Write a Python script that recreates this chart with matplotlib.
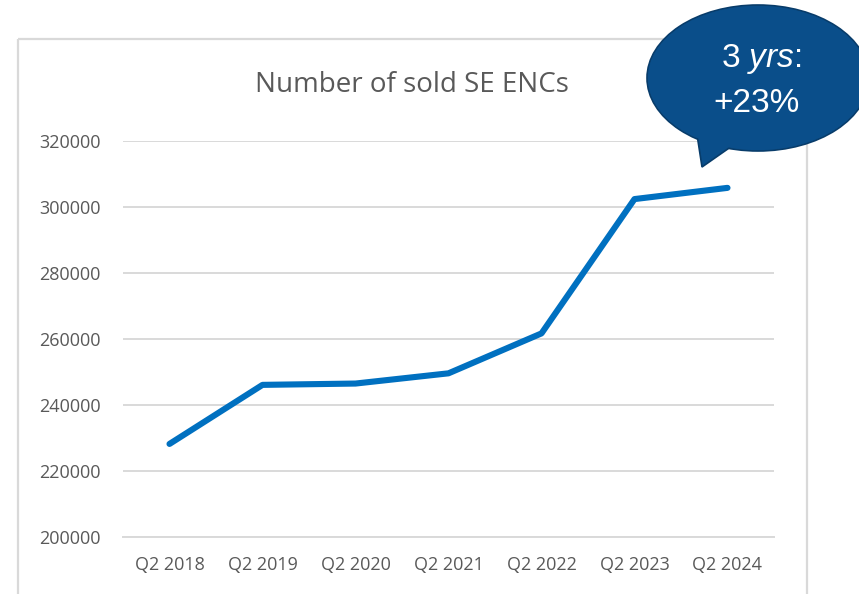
import matplotlib
matplotlib.use("Agg")
import matplotlib.pyplot as plt
from matplotlib.patches import Ellipse, Polygon, Rectangle

categories = ["Q2 2018", "Q2 2019", "Q2 2020", "Q2 2021", "Q2 2022", "Q2 2023", "Q2 2024"]
sold_encs = [228200, 246100, 246500, 249600, 261700, 302400, 305800]
y_ticks = [200000, 220000, 240000, 260000, 280000, 300000, 320000]
title = "Number of sold SE ENCs"
callout_line1 = r"3 $\mathit{yrs}$:"
callout_line2 = "+23%"

plt.rcParams['mathtext.fontset'] = 'custom'
plt.rcParams['mathtext.rm'] = 'Liberation Sans'
plt.rcParams['mathtext.it'] = 'Liberation Sans:italic'

W, H = 859, 594
fig = plt.figure(figsize=(W / 100, H / 100), dpi=100)
fig.patch.set_facecolor("white")

ax = fig.add_axes([123 / W, 1 - 537 / H, (774 - 123) / W, (537 - 141) / H])
x = list(range(len(categories)))
ax.plot(x, sold_encs, color="#0070C0", linewidth=4.4, solid_capstyle="round",
        solid_joinstyle="round", zorder=3)
ax.set_xlim(-0.5, len(categories) - 0.5)
ax.set_ylim(y_ticks[0], y_ticks[-1])
ax.set_yticks(y_ticks)
ax.set_yticklabels([str(v) for v in y_ticks])
ax.set_xticks(x)
ax.set_xticklabels(categories)
ax.grid(axis="y", color="#D9D9D9", linewidth=1.4)
ax.set_axisbelow(True)
for s in ["top", "right", "left"]:
    ax.spines[s].set_visible(False)
ax.spines["bottom"].set_color("#D9D9D9")
ax.spines["bottom"].set_linewidth(1.4)
ax.tick_params(length=0, colors="#595959", labelsize=13)
ax.tick_params(axis="y", pad=16)
ax.tick_params(axis="x", pad=14)
for lab in ax.get_xticklabels() + ax.get_yticklabels():
    lab.set_fontfamily("Open Sans")

# overlay in pixel coordinates
ov = fig.add_axes([0, 0, 1, 1])
ov.set_xlim(0, W)
ov.set_ylim(H, 0)
ov.axis("off")
ov.add_patch(Rectangle((18, 39), 807 - 18, 600 - 39, fill=False,
                       edgecolor="#D9D9D9", linewidth=1.6))
ov.text(412, 85, title, ha="center", va="center", fontsize=20,
        color="#595959", family="Open Sans")

fill = "#0A4E8A"
edge = "#083C6A"
ov.add_patch(Ellipse((758, 78), 222, 146, facecolor=fill, edgecolor=edge,
                     linewidth=1.2, zorder=5))
ov.add_patch(Polygon([(696, 128), (702, 167), (732, 146)], closed=True,
                     facecolor=fill, edgecolor=edge, linewidth=1.2, zorder=6))
ov.add_patch(Ellipse((758, 78), 220, 144, facecolor=fill, edgecolor="none",
                     zorder=7))
ov.text(761, 59, callout_line1, ha="center", va="center", fontsize=24,
        color="white", family="Liberation Sans", zorder=8)
ov.text(757, 104, callout_line2, ha="center", va="center", fontsize=24,
        color="white", family="Liberation Sans", zorder=8)

fig.savefig("out.png", dpi=100)
